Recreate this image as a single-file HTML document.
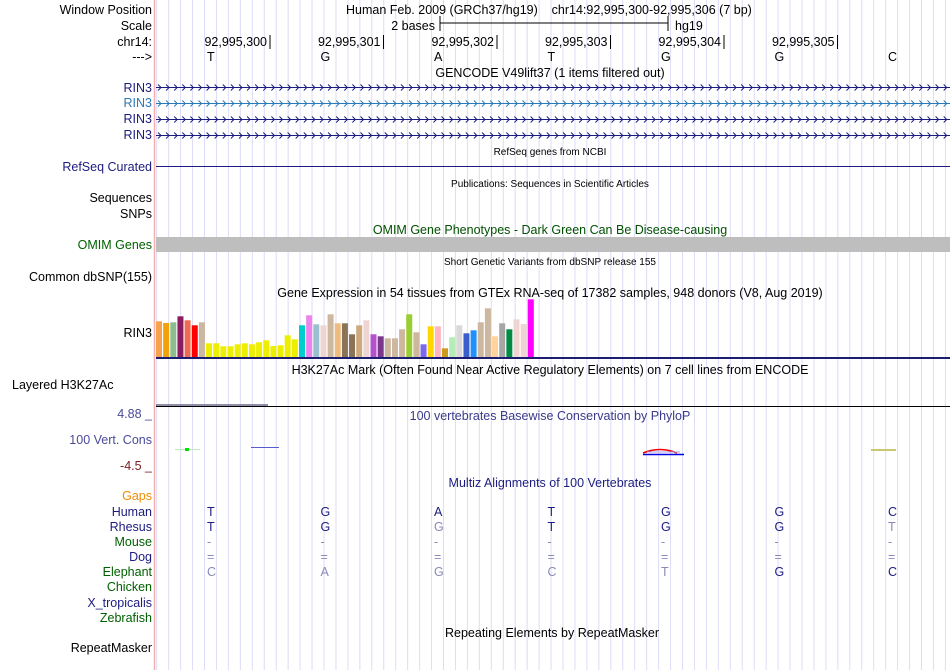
<!DOCTYPE html>
<html><head><meta charset="utf-8"><style>
html,body{margin:0;padding:0;background:#fff;}
svg{display:block;font-family:"Liberation Sans",Arial,sans-serif;}
</style></head><body>
<svg id="s" width="950" height="670" viewBox="0 0 950 670">
<g id="grid"></g>
<line x1="154.5" y1="0" x2="154.5" y2="670" stroke="#f4b0b0" stroke-width="1.5"/>
<g font-size="12.5" text-anchor="end">
<text x="152" y="14" fill="#000">Window Position</text>
<text x="152" y="30" fill="#000">Scale</text>
<text x="152" y="46" fill="#000">chr14:</text>
<text x="152" y="61" fill="#000">---&gt;</text>
<text x="152" y="92" fill="#1c1c80">RIN3</text>
<text x="152" y="107" fill="#2a7ab8">RIN3</text>
<text x="152" y="123" fill="#1c1c80">RIN3</text>
<text x="152" y="139" fill="#1c1c80">RIN3</text>
<text x="152" y="171" fill="#1c1c80">RefSeq Curated</text>
<text x="152" y="202" fill="#000">Sequences</text>
<text x="152" y="218" fill="#000">SNPs</text>
<text x="152" y="249" fill="#006000">OMIM Genes</text>
<text x="152" y="281" fill="#000">Common dbSNP(155)</text>
<text x="152" y="337" fill="#000">RIN3</text>
<text x="152" y="418" fill="#4a4a9a">4.88 _</text>
<text x="152" y="444" fill="#4a4a9a">100 Vert. Cons</text>
<text x="152" y="470" fill="#7a2020">-4.5 _</text>
<text x="152" y="500" fill="#f08c00">Gaps</text>
<text x="152" y="516" fill="#1c1c80">Human</text>
<text x="152" y="531" fill="#1c1c80">Rhesus</text>
<text x="152" y="546" fill="#006000">Mouse</text>
<text x="152" y="561" fill="#1c1c80">Dog</text>
<text x="152" y="576" fill="#006000">Elephant</text>
<text x="152" y="591" fill="#006000">Chicken</text>
<text x="152" y="607" fill="#1c1c80">X_tropicalis</text>
<text x="152" y="622" fill="#006000">Zebrafish</text>
<text x="152" y="652" fill="#000">RepeatMasker</text>
</g>
<text x="12" y="389" font-size="12.5" fill="#000">Layered H3K27Ac</text>

<text x="346" y="14" font-size="12.5" style="white-space:pre" xml:space="preserve">Human Feb. 2009 (GRCh37/hg19)    chr14:92,995,300-92,995,306 (7 bp)</text>
<g>
<text x="435" y="30" font-size="12.5" text-anchor="end">2 bases</text>
<line x1="440" y1="23" x2="668" y2="23" stroke="#000"/>
<line x1="440" y1="16" x2="440" y2="31" stroke="#000"/>
<line x1="668" y1="16" x2="668" y2="31" stroke="#000"/>
<text x="675" y="30" font-size="12.5">hg19</text>
</g>
<g id="ruler"></g>
<g id="bases"></g>

<text x="550" y="77" font-size="12.5" text-anchor="middle">GENCODE V49lift37 (1 items filtered out)</text>
<g id="genes"></g>
<text x="550" y="155" font-size="10" text-anchor="middle">RefSeq genes from NCBI</text>
<line x1="156" y1="166.5" x2="950" y2="166.5" stroke="#1c1c80"/>
<text x="550" y="187" font-size="10" text-anchor="middle">Publications: Sequences in Scientific Articles</text>
<text x="550" y="234" font-size="12.5" text-anchor="middle" fill="#005000">OMIM Gene Phenotypes - Dark Green Can Be Disease-causing</text>
<rect x="156" y="237" width="794" height="15" fill="#bebebe"/>
<text x="550" y="265" font-size="10" text-anchor="middle">Short Genetic Variants from dbSNP release 155</text>
<text x="550" y="297" font-size="12.5" text-anchor="middle">Gene Expression in 54 tissues from GTEx RNA-seq of 17382 samples, 948 donors (V8, Aug 2019)</text>
<g id="gtex"></g>
<line x1="156" y1="358" x2="950" y2="358" stroke="#1c1c70" stroke-width="2"/>
<text x="550" y="374" font-size="12.5" text-anchor="middle">H3K27Ac Mark (Often Found Near Active Regulatory Elements) on 7 cell lines from ENCODE</text>
<line x1="156" y1="405" x2="268" y2="405" stroke="#6a6a8a" stroke-width="1.5"/>
<line x1="156" y1="406.5" x2="950" y2="406.5" stroke="#000"/>
<text x="550" y="420" font-size="12.5" text-anchor="middle" fill="#3a3a8a">100 vertebrates Basewise Conservation by PhyloP</text>
<g>
<line x1="175" y1="449.5" x2="200" y2="449.5" stroke="#bfe8bf"/>
<rect x="185" y="448" width="4" height="3" fill="#00e000"/>
<line x1="251" y1="447.5" x2="279" y2="447.5" stroke="#5a5ad0"/>
<path d="M643,453 Q660,446 677,453" stroke="#f00000" fill="none" stroke-width="1.5"/>
<line x1="643" y1="454.5" x2="684" y2="454.5" stroke="#0000e0" stroke-width="1.5"/>
<line x1="647" y1="452" x2="680" y2="452" stroke="#a0a0f0"/>
<line x1="871" y1="450" x2="896" y2="450" stroke="#c8c870" stroke-width="2"/>
</g>
<text x="550" y="487" font-size="12.5" text-anchor="middle" fill="#1c1c80">Multiz Alignments of 100 Vertebrates</text>
<g id="align"></g>
<text x="552" y="637" font-size="12.5" text-anchor="middle">Repeating Elements by RepeatMasker</text>
</svg>
<script>
const ns="http://www.w3.org/2000/svg";
const startPos=92995300;
const refBases=["T","G","A","T","G","G","C"];
const rhesus=["T","G","G","T","G","G","T"];
const rhesusMatch=[1,1,0,1,1,1,0];
const mouse=["-","-","-","-","-","-","-"];
const dog=["=","=","=","=","=","=","="];
const elephant=["C","A","G","C","T","G","C"];
const elephantMatch=[0,0,0,0,0,1,1];
const gtexValues=[35.7,34,34.7,40.7,36.7,31.7,34.7,13.7,13.7,10.7,10.7,12.7,13.7,12.7,14.7,16.7,11,11.7,21.7,17.7,31.7,41.7,32.7,31.7,42.7,33.7,33.7,22.7,31.7,36.7,22.7,20.7,18.7,18.7,27.7,42.7,24.7,12.7,30.7,30.7,8.7,19.7,31.7,23.7,26.7,34.7,48.7,20.7,33.7,27.7,37.7,33,57.7];
const gtexColors=["#f7a24e","#f0a30a","#8fbc8f","#8b1c62","#ee6a50","#ff0000","#cdb79e","#eeee00","#eeee00","#eeee00","#eeee00","#eeee00","#eeee00","#eeee00","#eeee00","#eeee00","#eeee00","#eeee00","#eeee00","#eeee00","#00cdcd","#ee82ee","#9ac0cd","#eed5d2","#cdb79e","#eebb80","#8b7355","#8b7355","#cdaa7d","#eed5d2","#b452cd","#7a378b","#cdb79e","#cdb79e","#cdb79e","#9acd32","#cdb79e","#7b68ee","#ffd700","#ffb6c1","#cd9b1d","#b4eeb4","#d9d9d9","#3a5fcd","#1e90ff","#cdb79e","#cdb79e","#ffd39b","#a6a6a6","#008b45","#eed5d2","#eed5d2","#ff00ff"];

const x0=156.5, bw=113.5;
const xBase=i=>x0+bw*i;
const xMid=i=>xBase(i)+50.5;
function mk(tag,attrs,parent,txt){const e=document.createElementNS(ns,tag);for(const k in attrs)e.setAttribute(k,attrs[k]);if(txt!==undefined)e.textContent=txt;parent.appendChild(e);return e;}

const grid=document.getElementById('grid');
for(let gx=156.7;gx<950;gx+=11.95){const l=mk('line',{x1:gx,y1:0,x2:gx,y2:670,stroke:'#dcdcf6','stroke-width':1},grid);

}

const ruler=document.getElementById('ruler');
for(let i=0;i<6;i++){
 const tx=xBase(i+1);
 const l=mk('line',{x1:tx,y1:35,x2:tx,y2:49,stroke:'#000'},ruler);
 
 
 const t=mk('text',{x:tx-3,y:46,'font-size':12.5,'text-anchor':'end'},ruler,(startPos+i).toLocaleString('en-US'));
 
 
}
const bases=document.getElementById('bases');
refBases.forEach((b,i)=>{const t=mk('text',{x:xMid(i),y:61,'font-size':12.5},bases,b);
 
 });

const genes=document.getElementById('genes');
[[87,'#1c1c80'],[103,'#2a7ab8'],[119,'#1c1c80'],[135,'#1c1c80']].forEach(([y,c])=>{
 const g=mk('g',{},genes);
 
 
 mk('line',{x1:156,y1:y+0.5,x2:950,y2:y+0.5,stroke:c},g);
 let d='';for(let ax=158;ax<948;ax+=8.1){d+=`M${ax.toFixed(1)},${y-2.5} L${(ax+3).toFixed(1)},${y+0.5} L${ax.toFixed(1)},${y+3.5} `;}
 mk('path',{d:d,stroke:c,fill:'none','stroke-width':1},g);
});

const gtex=document.getElementById('gtex');
const gy=v=>357-v;
gtexValues.forEach((v,i)=>{
 const r=mk('rect',{x:156+i*7.15,y:gy(v),width:6,height:v,fill:gtexColors[i]},gtex);
 
 
});

const al=document.getElementById('align');
const dark='#1c1c80', light='#8a8ab8';
function row(arr,match,y,name){arr.forEach((b,i)=>{const t=mk('text',{x:xMid(i),y:y,'font-size':12.5,fill:match?(match[i]?dark:light):light},al,b);
 
 });}
row(refBases,refBases.map(()=>1),516,'human-base');
row(rhesus,rhesusMatch,531,'rhesus-base');
row(mouse,null,546,'mouse-base');
row(dog,null,561,'dog-base');
row(elephant,elephantMatch,576,'elephant-base');
</script>
</body></html>
